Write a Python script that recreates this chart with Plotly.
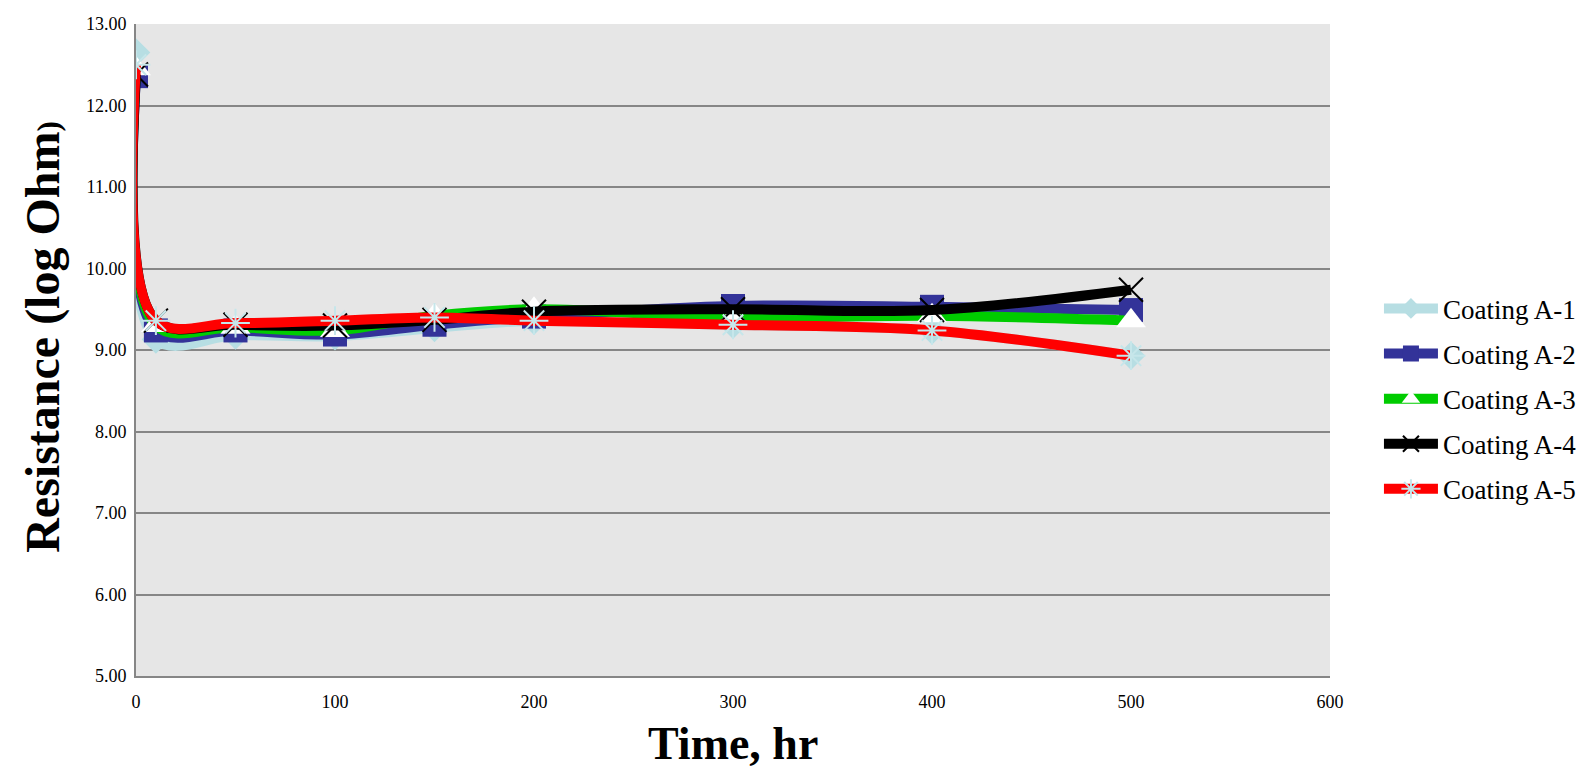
import plotly.graph_objects as go

time_hr = [0, 10, 50, 100, 150, 200, 300, 400, 500]
coating_a1 = [12.65, 9.13, 9.18, 9.17, 9.27, 9.36, 9.31, 9.24, 8.93]
coating_a2 = [12.36, 9.24, 9.24, 9.19, 9.31, 9.41, 9.54, 9.53, 9.49]
coating_a3 = [12.45, 9.30, 9.28, 9.24, 9.42, 9.50, 9.40, 9.42, 9.36]
coating_a4 = [12.38, 9.36, 9.31, 9.30, 9.37, 9.47, 9.50, 9.49, 9.74]
coating_a5 = [12.50, 9.36, 9.33, 9.36, 9.40, 9.36, 9.31, 9.24, 8.93]

names = ["Coating A-1", "Coating A-2", "Coating A-3", "Coating A-4", "Coating A-5"]
series = [coating_a1, coating_a2, coating_a3, coating_a4, coating_a5]
line_colors = ["#B7DEE3", "#333399", "#00CC00", "#000000", "#FF0000"]
markers = [
    dict(symbol="diamond", size=22, color="#B7DEE3"),
    dict(symbol="square", size=24, color="#333399"),
    dict(symbol="triangle-up", size=26, color="#FFFFFF"),
    dict(symbol="x-thin-open", size=24, color="#000000", line=dict(color="#000000", width=2)),
    dict(symbol="asterisk-open", size=24, color="#C6E6EA", line=dict(color="#C6E6EA", width=2)),
]

FONT = "Liberation Serif, Times New Roman, serif"

fig = go.Figure()
for i, (name, ys, lc, mk) in enumerate(zip(names, series, line_colors, markers)):
    fig.add_trace(go.Scatter(
        x=time_hr, y=ys, name=name, mode="lines+markers", legendgroup=f"g{i}",
        line=dict(color=lc, width=10, shape="spline", smoothing=1),
        marker=mk,
    ))

fig.update_layout(
    width=1586, height=772,
    margin=dict(l=128, r=258, t=16, b=104),
    paper_bgcolor="#FFFFFF",
    plot_bgcolor="#E6E6E6",
    font=dict(family=FONT, color="#000000", size=18),
    showlegend=True,
    legend=dict(
        x=1.041, y=0.425, xanchor="left", yanchor="middle",
        font=dict(family=FONT, size=27, color="#000000"),
        bgcolor="rgba(0,0,0,0)", itemwidth=54, tracegroupgap=7,
    ),
    xaxis=dict(
        range=[0, 600], dtick=100, tick0=0, showgrid=False, zeroline=False,
        showline=True, linecolor="#868686", linewidth=2, automargin=False,
        ticks="", ticklabelstandoff=8, tickfont=dict(family=FONT, size=18),
    ),
    yaxis=dict(
        range=[5, 13], dtick=1, tick0=5, tickformat=".2f",
        showgrid=True, gridcolor="#868686", gridwidth=2, zeroline=False,
        showline=True, linecolor="#868686", linewidth=2, automargin=False,
        ticks="", ticklabelstandoff=4, tickfont=dict(family=FONT, size=18),
    ),
    annotations=[
        dict(text="<b>Time, hr</b>", xref="paper", yref="paper", x=0.5, y=-0.104,
             xanchor="center", yanchor="middle", showarrow=False,
             font=dict(family=FONT, size=46, color="#000000")),
        dict(text="<b>Resistance (log Ohm</b><b style='font-size:31px'>)</b>",
             xref="paper", yref="paper", x=-0.078, y=0.52, textangle=-90,
             xanchor="center", yanchor="middle", showarrow=False,
             font=dict(family=FONT, size=48, color="#000000")),
    ],
)

fig.write_html("out.html")
